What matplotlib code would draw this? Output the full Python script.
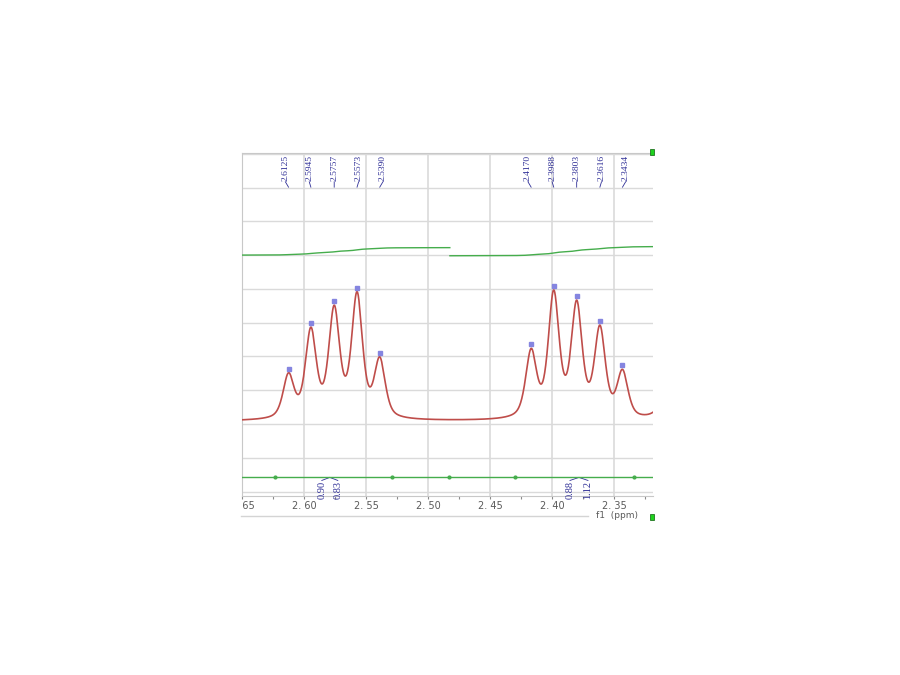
import numpy as np
import matplotlib.pyplot as plt
from matplotlib.patches import Rectangle
from matplotlib.lines import Line2D

# peak picks (ppm) and apparent peak tops (grid units)
left_ppm = [2.6125, 2.5945, 2.5757, 2.5573, 2.5390]
left_height = [3.52, 4.87, 5.52, 5.92, 3.99]
right_ppm = [2.4170, 2.3988, 2.3803, 2.3616, 2.3434]
right_height = [4.24, 5.97, 5.67, 4.93, 3.62]
left_labels = ["2.6125", "2.5945", "2.5757", "2.5573", "2.5390"]
right_labels = ["2.4170", "2.3988", "2.3803", "2.3616", "2.3434"]
baseline = 2.08
half_width = 0.0052
lor_fraction = 0.55
# signal just past the right edge of the window
edge_ppm, edge_amp, edge_width = 2.310, 0.6, 0.006

# integral curves and integration bar
integral_split = 2.4825
left_int = (7.00, 7.22)
right_int = (6.98, 7.25)
bar_y = 0.44
bar_marks = [2.6236, 2.5293, 2.4833, 2.430, 2.334]
int_values = ["0.90", "0.83", "0.88", "1.12"]
int_label_ppm = [2.5857, 2.5728, 2.3857, 2.3712]

xticks = [2.65, 2.60, 2.55, 2.50, 2.45, 2.40, 2.35]
xlim = (2.65, 2.3188)
ylim = (-0.13, 10.03)

blue = "#2e2e96"
red = "#bf4d4a"
green = "#45ad4c"
grid_c = "#dadada"


def lor(x, x0, w):
    return 1.0 / (1.0 + ((x - x0) / w) ** 2)


def line_shape(x, x0, w):
    g = np.exp(-np.log(2) * ((x - x0) / w) ** 2)
    return lor_fraction * lor(x, x0, w) + (1 - lor_fraction) * g


def make_spectrum(ppm):
    pk = np.array(left_ppm + right_ppm)
    ht = np.array(left_height + right_height)
    m = line_shape(pk[:, None], pk[None, :], half_width)
    target = ht - baseline - edge_amp * lor(pk, edge_ppm, edge_width)
    amps = np.linalg.solve(m, target)
    y = baseline + edge_amp * lor(ppm, edge_ppm, edge_width)
    for a, p in zip(amps, pk):
        y = y + a * line_shape(ppm, p, half_width)
    return y


def integral_curve(ppm, spec, lo, hi, start, end):
    sel = (ppm >= lo) & (ppm <= hi)
    x = ppm[sel][::-1]
    s = spec[sel][::-1] - baseline
    cum = np.concatenate([[0], np.cumsum((s[1:] + s[:-1]) / 2 * np.abs(np.diff(x)))])
    return x, start + (end - start) * cum / cum[-1]


def nmr_plot():
    fig = plt.figure(figsize=(9, 6.75), dpi=100)
    ax = fig.add_axes([242 / 900, 179 / 675, 411 / 900, 343.3 / 675])

    ppm = np.linspace(xlim[1], xlim[0], 4000)
    spec = make_spectrum(ppm)

    ax.set_xlim(*xlim)
    ax.set_ylim(*ylim)
    for t in xticks:
        ax.axvline(t, color=grid_c, lw=1.2, zorder=0)
    for yy in range(0, 11):
        ax.axhline(yy, color=grid_c, lw=1.0, zorder=0)

    ax.plot(ppm, spec, color=red, lw=1.2, zorder=3)

    # integral traces, split in two pieces
    x1, i1 = integral_curve(ppm, spec, integral_split, xlim[0], *left_int)
    x2, i2 = integral_curve(ppm, spec, xlim[1], integral_split, *right_int)
    ax.plot(x1, i1, color=green, lw=1.0, zorder=3)
    ax.plot(x2, i2, color=green, lw=1.0, zorder=3)

    # integration bar
    ax.axhline(bar_y, color=green, lw=1.0, zorder=3)
    ax.plot(bar_marks, [bar_y] * len(bar_marks), "o", color=green, ms=2, zorder=4)
    pairs = [(0, 1), (2, 3)]
    for a, b in pairs:
        mid = (int_label_ppm[a] + int_label_ppm[b]) / 2
        for k in (a, b):
            ax.plot([int_label_ppm[k], mid], [0.33, 0.42], color=blue, lw=0.6)
            ax.text(int_label_ppm[k], 0.32, int_values[k], rotation=90, ha="center", va="top",
                    fontsize=7.5, family="Liberation Serif", color=blue)

    # peak picks
    for pk, ht, lab in [(left_ppm, left_height, left_labels), (right_ppm, right_height, right_labels)]:
        c = np.mean(pk)
        ax.plot(pk, np.array(ht) + 0.12, "s", color="#8585e0", ms=2.2, zorder=4)
        for p, t in zip(pk, lab):
            lx = c + 1.07 * (p - c)
            ax.plot([lx, p], [9.17, 9.01], color=blue, lw=0.6)
            ax.text(lx, 9.19, t, rotation=90, ha="center", va="bottom",
                    fontsize=6.8, family="Liberation Serif", color=blue)

    for side in ("top", "bottom", "left"):
        ax.spines[side].set_color("#c8c8c8")
    ax.spines["right"].set_visible(False)
    ax.set_yticks([])
    ax.set_xticks(xticks)
    ax.set_xticklabels([f"{t:.2f}".replace(".", ". ") for t in xticks])
    ax.set_xticks(np.arange(2.325, 2.65, 0.05), minor=True)
    ax.tick_params(axis="x", which="both", direction="out", length=2.5, width=0.8,
                   color="#8a8a8a", labelsize=7, labelcolor="#5a5a5a", pad=1.0)
    clip = Rectangle((239 / 900, 0), 1, 1, transform=fig.transFigure)
    for lab in ax.get_xticklabels():
        lab.set_clip_path(clip)

    fig.text(617 / 900, 1 - 516 / 675, "f1  (ppm)", ha="center", va="center",
             fontsize=6.5, color="#5a5a5a")
    fig.add_artist(Line2D([241 / 900, 588 / 900], [1 - 516 / 675] * 2, color="#d4d4d4", lw=1))
    for yy in (152, 517):
        fig.add_artist(Rectangle((650 / 900, 1 - (yy + 3) / 675), 4 / 900, 6 / 675,
                                 facecolor="#1ed21e", edgecolor="#0b5f0b", lw=0.5))
    return fig


if __name__ == "__main__":
    fig = nmr_plot()
    fig.savefig("out.png", dpi=100)
